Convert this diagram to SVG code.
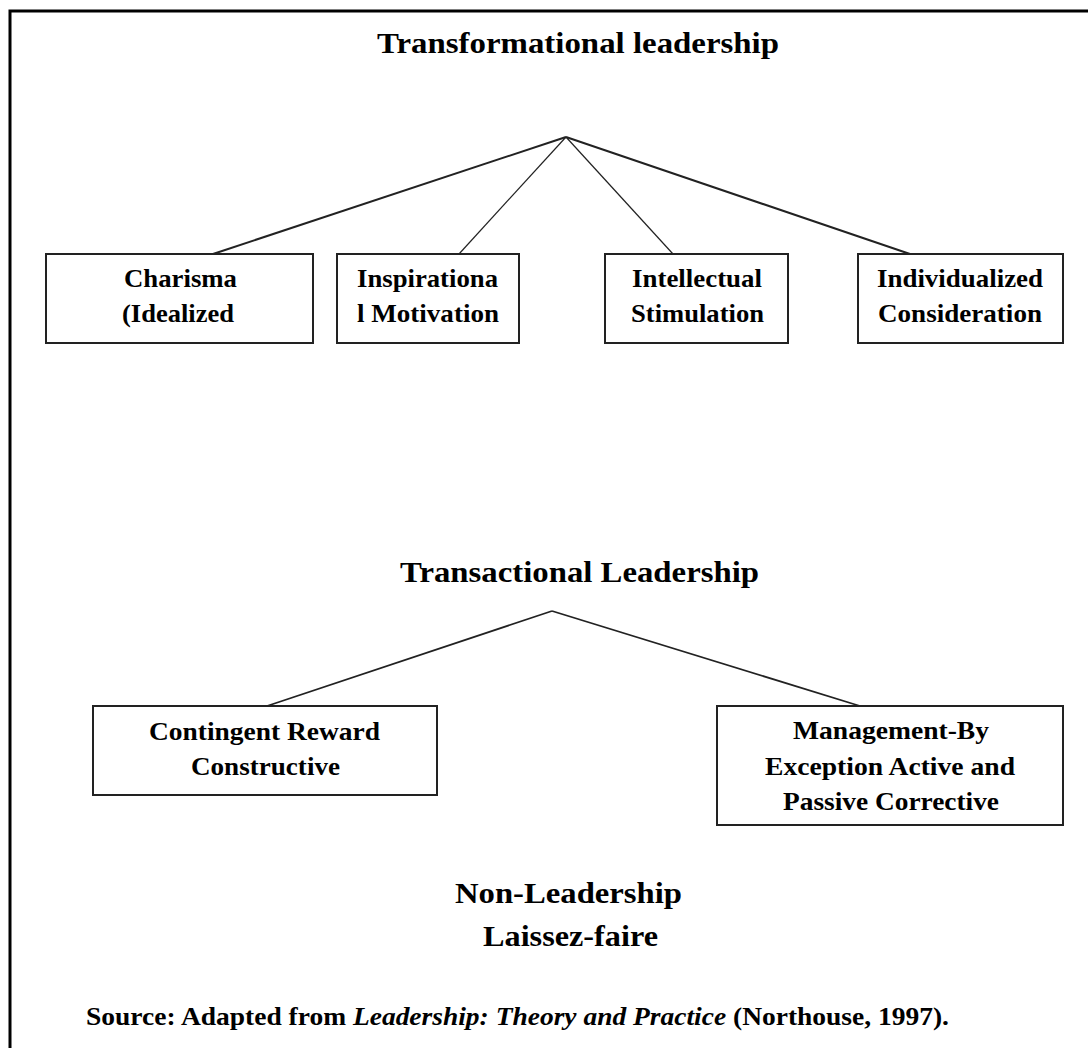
<svg xmlns="http://www.w3.org/2000/svg" width="1088" height="1048" viewBox="0 0 1088 1048">
  <style>
    text { font-family: "Liberation Serif", "Times New Roman", serif; font-weight: bold; fill: #000; }
    .h { font-size: 29px; }
    .b { font-size: 26px; }
    .s { font-size: 25px; }
    .box { fill: #fff; stroke: #222; stroke-width: 2; }
    .link { stroke: #222; fill: none; }
  </style>
  <rect x="0" y="0" width="1088" height="1048" fill="#fff"/>
  <!-- page frame: only the left and top edges fall inside the view -->
  <path d="M10 1048 V11 H1088" fill="none" stroke="#000" stroke-width="3"/>

  <g id="connectors">
    <line class="link" x1="566" y1="137" x2="213" y2="254" stroke-width="2"/>
    <line class="link" x1="566" y1="137" x2="459" y2="254" stroke-width="1.2"/>
    <line class="link" x1="566" y1="137" x2="673" y2="254" stroke-width="1.2"/>
    <line class="link" x1="566" y1="137" x2="910" y2="254" stroke-width="2"/>
    <line class="link" x1="552" y1="611" x2="267" y2="706" stroke-width="1.8"/>
    <line class="link" x1="552" y1="611" x2="860" y2="706" stroke-width="1.8"/>
  </g>

  <g id="transformational">
    <text class="h" x="377" y="53" textLength="402" lengthAdjust="spacingAndGlyphs">Transformational leadership</text>
  </g>

  <g id="charisma">
    <rect class="box" x="46" y="254" width="267" height="89"/>
    <text class="b" x="124" y="287" textLength="113" lengthAdjust="spacingAndGlyphs">Charisma</text>
    <text class="b" x="122" y="322" textLength="112" lengthAdjust="spacingAndGlyphs">(Idealized</text>
  </g>

  <g id="inspirational">
    <rect class="box" x="337" y="254" width="182" height="89"/>
    <text class="b" x="357" y="287" textLength="141" lengthAdjust="spacingAndGlyphs">Inspirationa</text>
    <text class="b" x="357" y="322" textLength="142" lengthAdjust="spacingAndGlyphs">l Motivation</text>
  </g>

  <g id="intellectual">
    <rect class="box" x="605" y="254" width="183" height="89"/>
    <text class="b" x="632" y="287" textLength="130" lengthAdjust="spacingAndGlyphs">Intellectual</text>
    <text class="b" x="631" y="322" textLength="133" lengthAdjust="spacingAndGlyphs">Stimulation</text>
  </g>

  <g id="individualized">
    <rect class="box" x="858" y="254" width="205" height="89"/>
    <text class="b" x="877" y="287" textLength="166" lengthAdjust="spacingAndGlyphs">Individualized</text>
    <text class="b" x="878" y="322" textLength="164" lengthAdjust="spacingAndGlyphs">Consideration</text>
  </g>

  <g id="transactional">
    <text class="h" x="400" y="582" textLength="359" lengthAdjust="spacingAndGlyphs">Transactional Leadership</text>
  </g>

  <g id="contingent">
    <rect class="box" x="93" y="706" width="344" height="89"/>
    <text class="b" x="149" y="740" textLength="231" lengthAdjust="spacingAndGlyphs">Contingent Reward</text>
    <text class="b" x="191" y="775" textLength="149" lengthAdjust="spacingAndGlyphs">Constructive</text>
  </g>

  <g id="management">
    <rect class="box" x="717" y="706" width="346" height="119"/>
    <text class="b" x="793" y="739" textLength="196" lengthAdjust="spacingAndGlyphs">Management-By</text>
    <text class="b" x="765" y="775" textLength="250" lengthAdjust="spacingAndGlyphs">Exception Active and</text>
    <text class="b" x="783" y="810" textLength="216" lengthAdjust="spacingAndGlyphs">Passive Corrective</text>
  </g>

  <g id="non-leadership">
    <text class="h" x="455" y="903" textLength="227" lengthAdjust="spacingAndGlyphs">Non-Leadership</text>
    <text class="h" x="483" y="946" textLength="175" lengthAdjust="spacingAndGlyphs">Laissez-faire</text>
  </g>

  <g id="source">
    <text class="s" x="86" y="1025" textLength="863" lengthAdjust="spacingAndGlyphs">Source: Adapted from <tspan font-style="italic">Leadership: Theory and Practice</tspan> (Northouse, 1997).</text>
  </g>
</svg>
